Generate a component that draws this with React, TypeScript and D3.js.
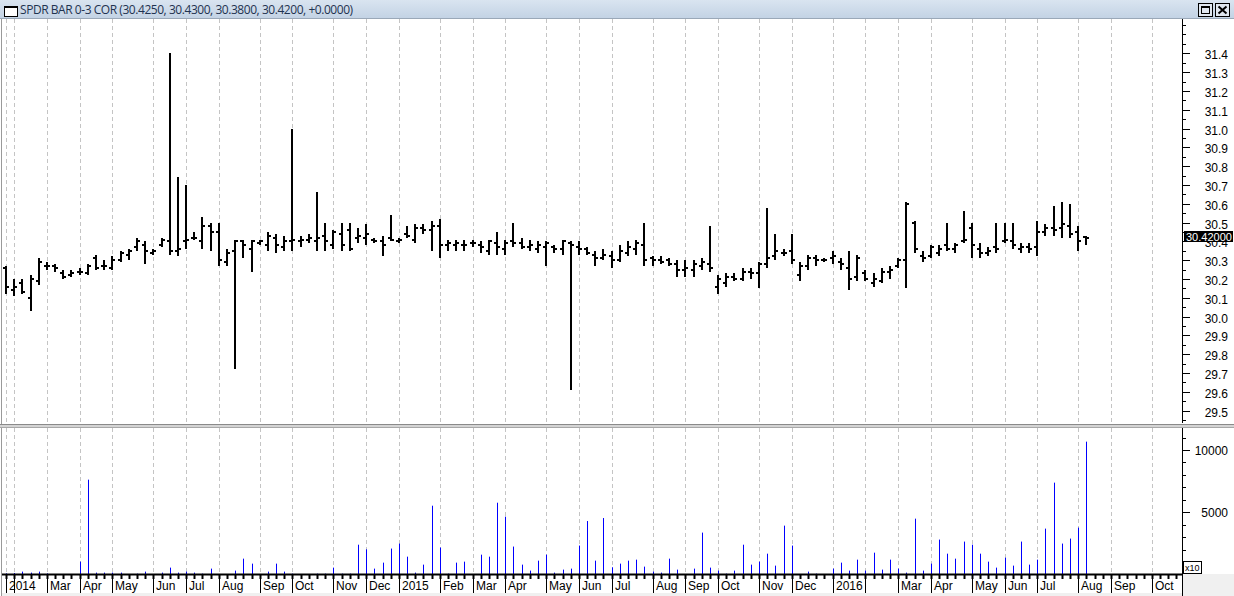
import React from 'react';
import * as d3 from 'd3';

// Weekly OHLC, SPDR BAR 0-3 COR (Jan 2014 - Aug 2016)
const highs = [
  30.27, 30.20, 30.20, 30.22, 30.31, 30.29, 30.28, 30.25, 30.25, 30.26,
  30.28, 30.33, 30.30, 30.32, 30.35, 30.36, 30.42, 30.40, 30.36, 30.42,
  31.40, 30.74, 30.70, 30.45, 30.53, 30.50, 30.50, 30.36, 30.41, 30.41,
  30.41, 30.41, 30.45, 30.44, 30.43, 31.00, 30.43, 30.44, 30.66, 30.50,
  30.46, 30.50, 30.50, 30.47, 30.49, 30.42, 30.43, 30.54, 30.42, 30.48,
  30.49, 30.49, 30.51, 30.52, 30.41, 30.41, 30.41, 30.41, 30.40, 30.41,
  30.45, 30.41, 30.50, 30.42, 30.41, 30.40, 30.40, 30.38, 30.41, 30.40,
  30.40, 30.37, 30.35, 30.36, 30.35, 30.38, 30.40, 30.41, 30.50, 30.32,
  30.32, 30.31, 30.30, 30.30, 30.30, 30.31, 30.48, 30.22, 30.23, 30.23,
  30.26, 30.26, 30.29, 30.58, 30.44, 30.36, 30.44, 30.29, 30.33, 30.33,
  30.31, 30.35, 30.31, 30.35, 30.33, 30.25, 30.23, 30.26, 30.27, 30.31,
  30.61, 30.51, 30.35, 30.38, 30.38, 30.50, 30.39, 30.56, 30.50, 30.39,
  30.37, 30.50, 30.50, 30.50, 30.39, 30.39, 30.51, 30.49, 30.59, 30.61,
  30.60, 30.48, 30.43,
];
const lows = [
  30.12, 30.11, 30.12, 30.03, 30.17, 30.25, 30.24, 30.20, 30.21, 30.22,
  30.22, 30.25, 30.25, 30.25, 30.29, 30.30, 30.35, 30.28, 30.33, 30.37,
  30.33, 30.32, 30.36, 30.41, 30.36, 30.35, 30.27, 30.27, 29.72, 30.31,
  30.24, 30.38, 30.35, 30.34, 30.35, 30.35, 30.37, 30.39, 30.35, 30.35,
  30.36, 30.35, 30.35, 30.39, 30.38, 30.39, 30.32, 30.40, 30.39, 30.42,
  30.39, 30.44, 30.35, 30.31, 30.35, 30.35, 30.35, 30.37, 30.34, 30.33,
  30.33, 30.33, 30.37, 30.36, 30.35, 30.34, 30.27, 30.34, 30.33, 29.61,
  30.33, 30.33, 30.27, 30.30, 30.26, 30.29, 30.32, 30.33, 30.27, 30.27,
  30.28, 30.27, 30.21, 30.21, 30.21, 30.25, 30.24, 30.12, 30.16, 30.19,
  30.19, 30.20, 30.15, 30.26, 30.30, 30.32, 30.28, 30.19, 30.25, 30.27,
  30.29, 30.28, 30.25, 30.14, 30.19, 30.19, 30.16, 30.18, 30.20, 30.26,
  30.15, 30.34, 30.29, 30.31, 30.32, 30.35, 30.34, 30.39, 30.31, 30.31,
  30.32, 30.34, 30.39, 30.36, 30.34, 30.34, 30.32, 30.43, 30.43, 30.42,
  30.42, 30.35, 30.38,
];
const opens = [
  30.26, 30.14, 30.18, 30.10, 30.19, 30.27, 30.27, 30.23, 30.22, 30.24,
  30.23, 30.31, 30.27, 30.26, 30.30, 30.33, 30.37, 30.38, 30.34, 30.38,
  30.40, 30.35, 30.40, 30.42, 30.40, 30.48, 30.45, 30.29, 30.35, 30.40,
  30.36, 30.39, 30.38, 30.42, 30.37, 30.40, 30.40, 30.41, 30.40, 30.43,
  30.38, 30.44, 30.46, 30.42, 30.42, 30.41, 30.40, 30.42, 30.40, 30.44,
  30.41, 30.47, 30.46, 30.48, 30.38, 30.38, 30.38, 30.39, 30.38, 30.35,
  30.39, 30.36, 30.40, 30.39, 30.37, 30.36, 30.37, 30.37, 30.36, 30.39,
  30.37, 30.36, 30.33, 30.31, 30.32, 30.30, 30.34, 30.36, 30.38, 30.31,
  30.30, 30.30, 30.28, 30.25, 30.25, 30.27, 30.28, 30.16, 30.18, 30.21,
  30.20, 30.24, 30.23, 30.28, 30.32, 30.34, 30.35, 30.22, 30.27, 30.31,
  30.30, 30.31, 30.29, 30.26, 30.21, 30.23, 30.18, 30.19, 30.24, 30.27,
  30.30, 30.50, 30.32, 30.32, 30.34, 30.38, 30.36, 30.40, 30.47, 30.36,
  30.34, 30.37, 30.40, 30.40, 30.36, 30.37, 30.37, 30.45, 30.47, 30.47,
  30.48, 30.45, 30.425,
];
const closes = [
  30.16, 30.16, 30.13, 30.20, 30.29, 30.27, 30.26, 30.21, 30.23, 30.24,
  30.27, 30.26, 30.27, 30.30, 30.34, 30.35, 30.40, 30.35, 30.35, 30.41,
  30.35, 30.36, 30.41, 30.42, 30.48, 30.45, 30.30, 30.34, 30.40, 30.38,
  30.40, 30.40, 30.43, 30.38, 30.40, 30.41, 30.41, 30.42, 30.42, 30.40,
  30.45, 30.38, 30.36, 30.43, 30.44, 30.40, 30.38, 30.41, 30.41, 30.43,
  30.47, 30.46, 30.48, 30.38, 30.39, 30.39, 30.38, 30.39, 30.37, 30.40,
  30.37, 30.39, 30.39, 30.37, 30.38, 30.38, 30.39, 30.36, 30.40, 30.38,
  30.36, 30.34, 30.31, 30.33, 30.30, 30.35, 30.37, 30.39, 30.30, 30.30,
  30.29, 30.28, 30.25, 30.26, 30.28, 30.29, 30.26, 30.20, 30.21, 30.20,
  30.24, 30.23, 30.28, 30.31, 30.35, 30.34, 30.30, 30.27, 30.31, 30.30,
  30.30, 30.32, 30.28, 30.20, 30.31, 30.20, 30.20, 30.24, 30.25, 30.30,
  30.60, 30.36, 30.31, 30.37, 30.36, 30.36, 30.38, 30.41, 30.38, 30.34,
  30.35, 30.36, 30.41, 30.38, 30.37, 30.36, 30.45, 30.47, 30.46, 30.49,
  30.44, 30.40, 30.42,
];
// volume, in units of x10
const volumes = [
  100, 130, 240, 160, 240, 100, 0, 50, 0, 1040,
  7620, 160, 160, 160, 160, 0, 80, 240, 0, 160,
  560, 160, 240, 160, 80, 480, 0, 0, 320, 1280,
  880, 0, 240, 880, 240, 80, 0, 0, 80, 80,
  560, 80, 80, 2400, 2030, 480, 960, 2090, 2490, 1440,
  160, 800, 5530, 2170, 80, 960, 1040, 0, 1600, 1440,
  5770, 4650, 2250, 800, 320, 1120, 1600, 160, 400, 480,
  2330, 4300, 1120, 4540, 590, 880, 1120, 1200, 640, 240,
  160, 1280, 400, 0, 480, 3370, 560, 320, 80, 320,
  2400, 800, 1040, 1680, 720, 3930, 2330, 0, 240, 80,
  0, 480, 960, 320, 1200, 320, 1760, 400, 1200, 480,
  160, 4490, 320, 880, 2810, 1680, 1280, 2650, 2400, 1680,
  1040, 560, 1360, 720, 2650, 800, 1200, 3690, 7380, 2490,
  2890, 3770, 10670,
];
const monthStarts = [0, 1, 5, 9, 13, 18, 22, 26, 31, 35, 40, 44, 48, 53, 57, 61, 66, 70, 74, 79, 83, 87, 92, 96, 101, 105, 109, 113, 118, 122, 126, 131, 135, 140];
const monthLabels = ['2014', '', 'Mar', 'Apr', 'May', 'Jun', 'Jul', 'Aug', 'Sep', 'Oct', 'Nov', 'Dec', '2015', 'Feb', 'Mar', 'Apr', 'May', 'Jun', 'Jul', 'Aug', 'Sep', 'Oct', 'Nov', 'Dec', '2016', '', 'Mar', 'Apr', 'May', 'Jun', 'Jul', 'Aug', 'Sep', 'Oct'];
const priceLabels = [29.5, 29.6, 29.7, 29.8, 29.9, 30.0, 30.1, 30.2, 30.3, 30.4, 30.5, 30.6, 30.7, 30.8, 30.9, 31.0, 31.1, 31.2, 31.3, 31.4];
const volumeLabels = [5000, 10000];
const lastPrice = 30.42;
const titleText = 'SPDR BAR 0-3 COR (30.4250, 30.4300, 30.3800, 30.4200, +0.0000)';

const W = 1234;
const H = 596;
const AXIS_X = 1182;
const PRICE_TOP = 19;
const PRICE_BOTTOM = 423;
const VOL_TOP = 428;
const VOL_BASE = 574;
const FONT = "'Liberation Sans', Arial, sans-serif";

export default function App() {
  const x = d3.scaleLinear().domain([0, 132]).range([6, 1086.4]);
  const yP = d3.scaleLinear().domain([29.5, 31.4]).range([410.7, 53.3]);
  const yV = d3.scaleLinear().domain([0, 10000]).range([574.6, 450]);
  const px = (i: number) => Math.round(x(i));

  const minorPrice = d3.range(29.4, 31.6, 0.05).filter((v) => yP(v) > PRICE_TOP + 2 && yP(v) < PRICE_BOTTOM - 1);
  const minorVol = d3.range(1000, 12000, 1000).filter((v) => yV(v) > VOL_TOP + 2 && yV(v) < 560);
  const barTicks = d3.range(0, 144);

  return (
    <svg width={W} height={H} style={{ position: 'absolute', left: 0, top: 0, background: '#ffffff' }} fontFamily={FONT}>
      <defs>
        <linearGradient id="titleGrad" x1="0" y1="0" x2="0" y2="1">
          <stop offset="0" stopColor="#d9e4f0" />
          <stop offset="1" stopColor="#c2d2e4" />
        </linearGradient>
      </defs>
      <rect x={0} y={0} width={W} height={H} fill="#ffffff" />
      {/* title bar */}
      <rect x={0} y={0} width={W} height={19} fill="url(#titleGrad)" />
      <line x1={0} x2={W} y1={18.5} y2={18.5} stroke="#9aa8b8" />
      <rect x={4.5} y={6.5} width={13} height={10} fill="#ffffff" stroke="#000" />
      <line x1={4} x2={18} y1={7} y2={7} stroke="#000" strokeWidth={2} />
      <text x={20} y={14} fontSize={12} fill="#1f3350" fontFamily="'Open Sans', 'Noto Sans', sans-serif" letterSpacing={-0.45}>{titleText}</text>
      <rect x={1198.5} y={3.5} width={14} height={13} fill="#dfe6ef" stroke="#000" />
      <rect x={1201.5} y={6.5} width={8} height={7} fill="none" stroke="#000" />
      <line x1={1201} x2={1210} y1={7} y2={7} stroke="#000" strokeWidth={2} />
      <rect x={1215.5} y={3.5} width={14} height={13} fill="#dfe6ef" stroke="#000" />
      <path d="M1218.5,6.5 L1226.5,13.5 M1226.5,6.5 L1218.5,13.5" stroke="#000" strokeWidth={2} />

      {/* left border */}
      <line x1={1.5} x2={1.5} y1={19} y2={H} stroke="#9a9a9a" />

      {/* month gridlines */}
      {monthStarts.map((m, k) => (
        <g key={'g' + k}>
          <line x1={px(m) + 0.5} x2={px(m) + 0.5} y1={PRICE_TOP} y2={PRICE_BOTTOM} stroke="#c4c4c4" strokeDasharray="4,3" />
          <line x1={px(m) + 0.5} x2={px(m) + 0.5} y1={VOL_TOP} y2={VOL_BASE} stroke="#c4c4c4" strokeDasharray="4,3" />
        </g>
      ))}

      {/* pane separator */}
      <rect x={0} y={PRICE_BOTTOM + 1} width={W} height={4} fill="#d4d4d4" />
      <line x1={0} x2={W} y1={PRICE_BOTTOM + 1.5} y2={PRICE_BOTTOM + 1.5} stroke="#8a8a8a" />
      <line x1={0} x2={W} y1={PRICE_BOTTOM + 4.5} y2={PRICE_BOTTOM + 4.5} stroke="#a8a8a8" />

      {/* OHLC bars */}
      {highs.map((h, i) => {
        const cx = px(i);
        const yH = Math.round(yP(h));
        const yL = Math.round(yP(lows[i]));
        const yO = Math.round(yP(opens[i]));
        const yC = Math.round(yP(closes[i]));
        return (
          <g key={'b' + i} fill="#000">
            <rect x={cx - 1} y={yH} width={2} height={Math.max(2, yL - yH)} />
            <rect x={cx - 3} y={yO - 1} width={2} height={2} />
            <rect x={cx + 1} y={yC - 1} width={2} height={2} />
          </g>
        );
      })}

      {/* volume bars */}
      {volumes.map((v, i) =>
        v > 0 ? (
          <rect key={'v' + i} x={px(i)} y={yV(v)} width={1} height={VOL_BASE - yV(v)} fill="#0000ff" />
        ) : null
      )}

      {/* x axis */}
      <rect x={AXIS_X} y={VOL_BASE} width={W - AXIS_X} height={H - VOL_BASE} fill="#f0f0f0" />
      <rect x={2} y={593} width={AXIS_X - 2} height={3} fill="#f0f0f0" />
      <line x1={2} x2={AXIS_X} y1={VOL_BASE + 0.5} y2={VOL_BASE + 0.5} stroke="#000" strokeWidth={2} />
      {barTicks.map((i) => (
        <line key={'t' + i} x1={px(i) + 0.5} x2={px(i) + 0.5} y1={VOL_BASE} y2={VOL_BASE + 5} stroke="#000" strokeWidth={2} />
      ))}
      {monthStarts.map((m, k) => (
        <g key={'m' + k}>
          <line x1={px(m) + 0.5} x2={px(m) + 0.5} y1={VOL_BASE} y2={593} stroke="#000" />
          <text x={px(m) + 3} y={590} fontSize={12} fill="#000">{monthLabels[k]}</text>
        </g>
      ))}

      {/* right price axis */}
      <line x1={AXIS_X + 0.5} x2={AXIS_X + 0.5} y1={19} y2={PRICE_BOTTOM} stroke="#000" />
      {minorPrice.map((v, k) => (
        <line key={'mp' + k} x1={AXIS_X} x2={AXIS_X + 4} y1={Math.round(yP(v)) + 0.5} y2={Math.round(yP(v)) + 0.5} stroke="#000" />
      ))}
      {priceLabels.map((v, k) => (
        <g key={'pl' + k}>
          <line x1={AXIS_X} x2={AXIS_X + 8} y1={Math.round(yP(v)) + 0.5} y2={Math.round(yP(v)) + 0.5} stroke="#000" />
          <text x={1228} y={Math.round(yP(v)) + 6} fontSize={12} textAnchor="end" fill="#000">{v.toFixed(1)}</text>
        </g>
      ))}
      <rect x={1184} y={231} width={49} height={11} fill="#000" />
      <text x={1186} y={240.5} fontSize={11} fill="#fff">{lastPrice.toFixed(5)}</text>

      {/* right volume axis */}
      <line x1={AXIS_X + 0.5} x2={AXIS_X + 0.5} y1={VOL_TOP} y2={H} stroke="#000" />
      {minorVol.map((v, k) => (
        <line key={'mv' + k} x1={AXIS_X} x2={AXIS_X + 4} y1={Math.round(yV(v)) + 0.5} y2={Math.round(yV(v)) + 0.5} stroke="#000" />
      ))}
      {volumeLabels.map((v, k) => (
        <g key={'vl' + k}>
          <line x1={AXIS_X} x2={AXIS_X + 8} y1={Math.round(yV(v)) + 0.5} y2={Math.round(yV(v)) + 0.5} stroke="#000" />
          <text x={1228} y={Math.round(yV(v)) + 5} fontSize={12} textAnchor="end" fill="#000">{String(v)}</text>
        </g>
      ))}
      <rect x={1183.5} y={561.5} width={18} height={12} fill="#fff" stroke="#000" />
      <text x={1185} y={571} fontSize={9} fill="#000">x10</text>
    </svg>
  );
}
